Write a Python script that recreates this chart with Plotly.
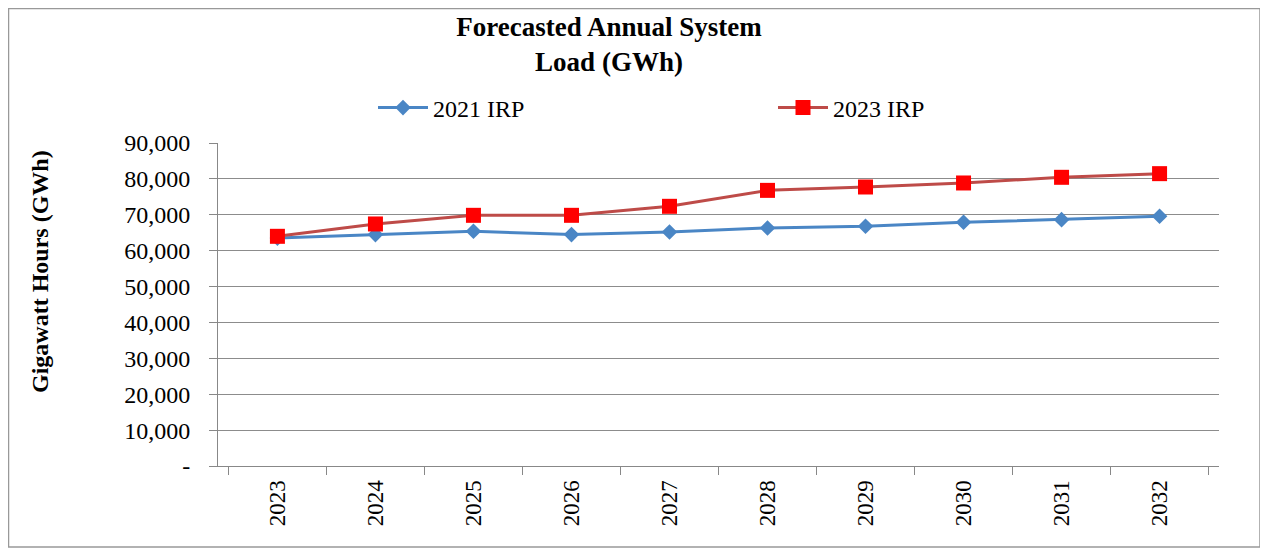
import plotly.graph_objects as go

years = ["2023", "2024", "2025", "2026", "2027", "2028", "2029", "2030", "2031", "2032"]
irp_2021 = [63500, 64470, 65400, 64470, 65210, 66320, 66790, 67900, 68640, 69570]
irp_2023 = [64000, 67440, 69850, 69850, 72360, 76800, 77740, 78860, 80440, 81460]
y_ticks = [0, 10000, 20000, 30000, 40000, 50000, 60000, 70000, 80000, 90000]
y_tick_text = ["-", "10,000", "20,000", "30,000", "40,000", "50,000", "60,000", "70,000", "80,000", "90,000"]

serif = "Liberation Serif, Times New Roman, serif"

# page body has an 8px margin; figure is sized so it fits the 1268x552 window
W, H = 1260, 544
L, T, R, B = 210, 135, 49, 86
PW = W - L - R
PH = H - T - B

fig = go.Figure()
fig.add_trace(go.Scatter(
    x=years, y=irp_2021, name="2021 IRP", mode="lines+markers",
    line=dict(color="#4A86C5", width=3),
    marker=dict(symbol="diamond", size=12, color="#4A86C5"),
))
fig.add_trace(go.Scatter(
    x=years, y=irp_2023, name="2023 IRP", mode="lines+markers",
    line=dict(color="#BE4B48", width=3),
    marker=dict(symbol="square", size=15, color="#FF0000"),
))

fig.update_layout(
    width=W, height=H,
    margin=dict(l=L, r=R, t=T, b=B),
    paper_bgcolor="white", plot_bgcolor="white",
    font=dict(family=serif, color="#000000"),
    title=dict(
        text="<b>Forecasted Annual System<br>Load (GWh)</b>",
        x=601 / W, xanchor="center", y=1 - 28 / H, yanchor="middle",
        font=dict(family=serif, size=27, color="#000000"),
    ),
    legend=dict(
        orientation="h", x=(365 - L) / PW, xanchor="left",
        y=(H - B - 100) / PH, yanchor="middle",
        font=dict(family=serif, size=24, color="#000000"),
        itemwidth=50,
        entrywidth=335, entrywidthmode="pixels",
        bgcolor="rgba(0,0,0,0)",
    ),
    showlegend=True,
)

fig.update_xaxes(
    type="category", tickangle=-90, tickson="boundaries",
    ticks="outside", ticklen=8, tickcolor="#888888",
    showline=True, linecolor="#888888", linewidth=1,
    showgrid=False, ticklabelstandoff=4,
    tickfont=dict(family=serif, size=23, color="#000000"),
)
fig.update_yaxes(
    range=[0, 90000], tickvals=y_ticks, ticktext=y_tick_text,
    ticks="outside", ticklen=8, tickcolor="#888888",
    showline=True, linecolor="#888888", linewidth=1,
    showgrid=True, gridcolor="#8C8C8C", gridwidth=1,
    zeroline=False, ticklabelstandoff=14,
    tickfont=dict(family=serif, size=24, color="#000000"),
)

# y-axis title (placed as in the reference, slightly above plot centre)
fig.add_annotation(
    text="<b>Gigawatt Hours (GWh)</b>", textangle=-90,
    xref="paper", yref="paper", x=(32 - L) / PW, y=(H - B - 264) / PH,
    xanchor="center", yanchor="middle", showarrow=False,
    font=dict(family=serif, size=24, color="#000000"),
)

# chart border
fig.add_shape(type="rect", xref="paper", yref="paper",
              x0=(0.5 - L) / PW, x1=(1252 - L) / PW,
              y0=(H - B - 539) / PH, y1=(H - B - 0.5) / PH,
              line=dict(color="#999999", width=1.5))

fig.write_html("out.html")
